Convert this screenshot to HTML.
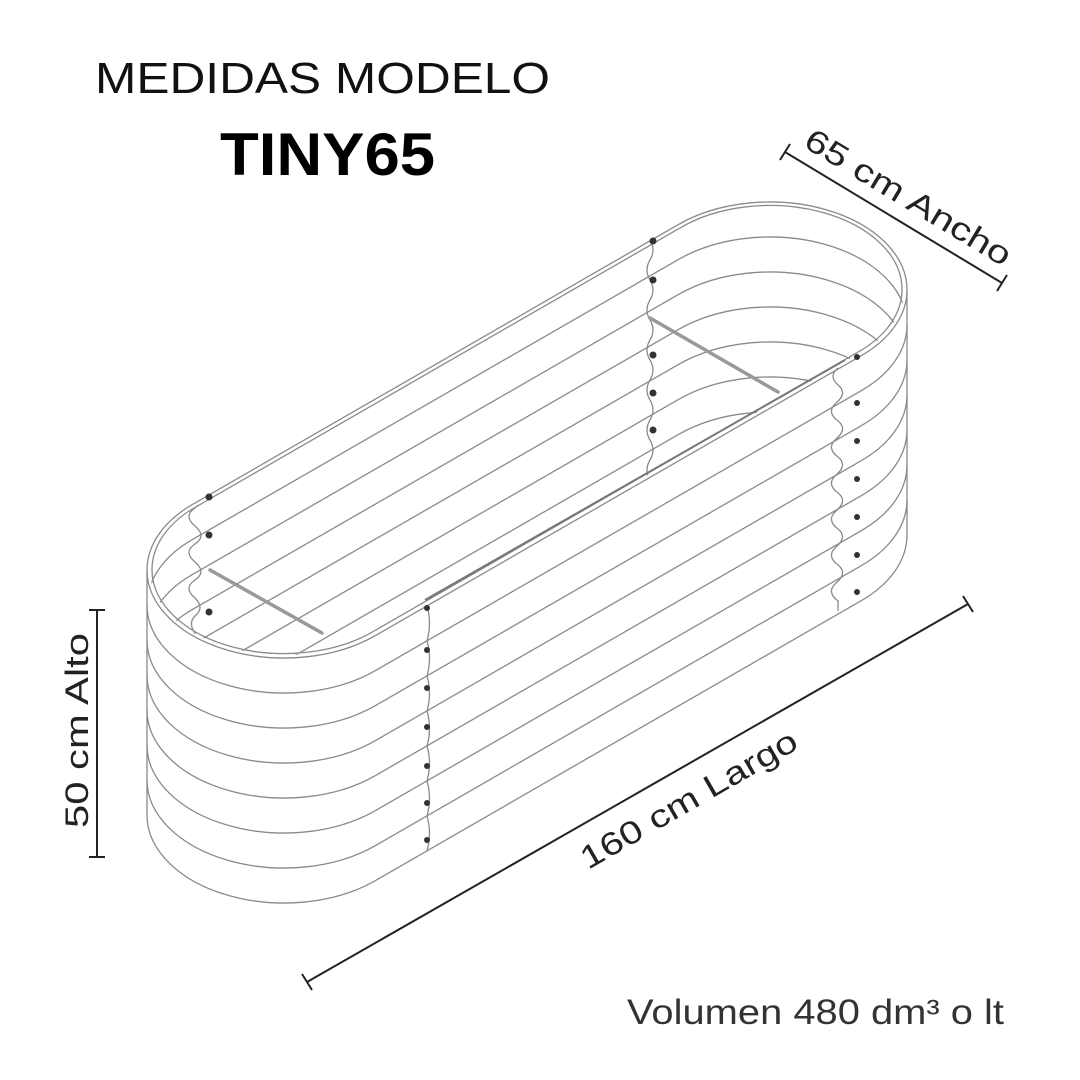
<!DOCTYPE html>
<html><head><meta charset="utf-8"><style>
html,body{margin:0;padding:0;background:#fff;}
svg{display:block;}
</style></head><body>
<svg width="1080" height="1080" viewBox="0 0 1080 1080" xmlns="http://www.w3.org/2000/svg">
<defs>
<clipPath id="top"><path d="M150,570 A134,85 0 0 0 375.7,632 L861.7,352 A134,85 0 0 0 904,290 A134,85 0 0 0 678.3,228 L192.3,508 A134,85 0 0 0 150,570 Z"/></clipPath>
</defs>
<rect width="1080" height="1080" fill="#fff"/>
<text x="95" y="93" font-family="Liberation Sans, sans-serif" font-size="44" fill="#111" textLength="455" lengthAdjust="spacingAndGlyphs">MEDIDAS MODELO</text>
<text x="220" y="175" font-family="Liberation Sans, sans-serif" font-size="60" font-weight="bold" fill="#000" textLength="215" lengthAdjust="spacingAndGlyphs">TINY65</text>
<text x="627" y="1024" font-family="Liberation Sans, sans-serif" font-size="35" fill="#333" textLength="377" lengthAdjust="spacingAndGlyphs">Volumen 480 dm³ o lt</text>

<g fill="none" stroke="#8a8a8a" stroke-width="1.3">
<g clip-path="url(#top)">
<g id="lv">
<path d="M678.3,259.6 A137,88 0 0 1 907,325"/>
<path d="M147,605 A137,88 0 0 1 192.3,539.6 L678.3,259.6"/>
</g>
<use href="#lv" y="35"/><use href="#lv" y="70"/><use href="#lv" y="105"/><use href="#lv" y="140"/><use href="#lv" y="175"/><use href="#lv" y="210"/>
<path d="M650,240 q6,10 0,20 q-6,10 0,20 q6,10 0,20 q-6,10 0,20 q6,10 0,20 q-6,10 0,20 q6,10 0,20 q-6,10 0,20 q6,10 0,20 q-6,10 0,20 q6,10 0,20 q-6,10 0,20"/>
<path d="M195,490 q10,8 0,18 q-12,8 0,18 q12,10 0,18 q-12,8 0,18 q12,10 0,18 q-12,8 0,18 q10,10 0,18 q-8,8 2,20"/>
</g>
<path d="M147,570 A137,88 0 0 0 375.7,635.4 L861.7,355.4 A137,88 0 0 0 907,290 A137,88 0 0 0 678.3,224.6 L192.3,504.6 A137,88 0 0 0 147,570 Z"/>
<path d="M152,570 A132,84 0 0 0 375.7,630 L861.7,350 A132,84 0 0 0 902,290 A132,84 0 0 0 678.3,229 L192.3,509 A132,84 0 0 0 152,570 Z"/>
<path d="M147,605 A137,88 0 0 0 375.7,670.4 L861.7,390.4 A137,88 0 0 0 907,325"/>
<path d="M147,640 A137,88 0 0 0 375.7,705.4 L861.7,425.4 A137,88 0 0 0 907,360"/>
<path d="M147,675 A137,88 0 0 0 375.7,740.4 L861.7,460.4 A137,88 0 0 0 907,395"/>
<path d="M147,710 A137,88 0 0 0 375.7,775.4 L861.7,495.4 A137,88 0 0 0 907,430"/>
<path d="M147,745 A137,88 0 0 0 375.7,810.4 L861.7,530.4 A137,88 0 0 0 907,465"/>
<path d="M147,780 A137,88 0 0 0 375.7,845.4 L861.7,565.4 A137,88 0 0 0 907,500"/>
<path d="M147,815 A137,88 0 0 0 375.7,880.4 L861.7,600.4 A137,88 0 0 0 907,535"/>
<line x1="147" y1="570" x2="147" y2="815"/>
<line x1="907" y1="290" x2="907" y2="535"/>
<path d="M427,606 q5,17 0,35 q5,17 0,35 q5,17 0,35 q5,17 0,35 q5,17 0,35 q5,17 0,35 q5,17 0,35"/>
<path d="M838,368 q-10,8 0,17 q10,8 -2,18 q-10,9 2,18 q10,8 -2,18 q-10,9 2,18 q10,8 -2,18 q-10,9 2,18 q10,8 -2,18 q-10,9 2,18 q10,8 -2,18 q-10,9 2,18 q10,8 -2,18 q-10,9 2,18 l0,10"/>
</g>
<g stroke="#999" stroke-width="3.5" fill="none" stroke-linecap="round">
<line x1="650" y1="318" x2="778" y2="392"/>
<line x1="210" y1="570" x2="322" y2="633"/>
</g>
<line x1="425" y1="600" x2="845" y2="360" stroke="#777" stroke-width="2"/>
<g fill="#333">
<circle cx="653" cy="241" r="3.5"/><circle cx="653" cy="280" r="3.5"/><circle cx="653" cy="355" r="3.5"/><circle cx="653" cy="393" r="3.5"/><circle cx="653" cy="430" r="3.5"/>
<circle cx="209" cy="497" r="3.5"/><circle cx="209" cy="535" r="3.5"/><circle cx="209" cy="612" r="3.5"/>
<circle cx="427" cy="608" r="3"/><circle cx="427" cy="650" r="3"/><circle cx="427" cy="688" r="3"/><circle cx="427" cy="727" r="3"/><circle cx="427" cy="766" r="3"/><circle cx="427" cy="803" r="3"/><circle cx="427" cy="840" r="3"/>
<circle cx="857" cy="357" r="3"/><circle cx="857" cy="403" r="3"/><circle cx="857" cy="441" r="3"/><circle cx="857" cy="479" r="3"/><circle cx="857" cy="517" r="3"/><circle cx="857" cy="555" r="3"/><circle cx="857" cy="592" r="3"/>
</g>

<g stroke="#222" stroke-width="2" fill="none">
<line x1="785" y1="152" x2="1002" y2="283"/>
<line x1="780" y1="160" x2="790" y2="144"/><line x1="997" y1="291" x2="1007" y2="275"/>
<line x1="307" y1="982" x2="968" y2="604"/>
<line x1="302" y1="974" x2="312" y2="990"/><line x1="963" y1="596" x2="973" y2="612"/>
<line x1="97" y1="610" x2="97" y2="857"/>
<line x1="89" y1="610" x2="105" y2="610"/><line x1="89" y1="857" x2="105" y2="857"/>
</g>
<g font-family="Liberation Sans, sans-serif" fill="#222" font-size="32">
<text transform="translate(802,146) rotate(31)" textLength="235" lengthAdjust="spacingAndGlyphs">65 cm  Ancho</text>
<text transform="translate(588,870) rotate(-30)" textLength="245" lengthAdjust="spacingAndGlyphs">160 cm  Largo</text>
<text transform="translate(88,828) rotate(-90)" textLength="195" lengthAdjust="spacingAndGlyphs">50 cm  Alto</text>
</g>
</svg>
</body></html>
